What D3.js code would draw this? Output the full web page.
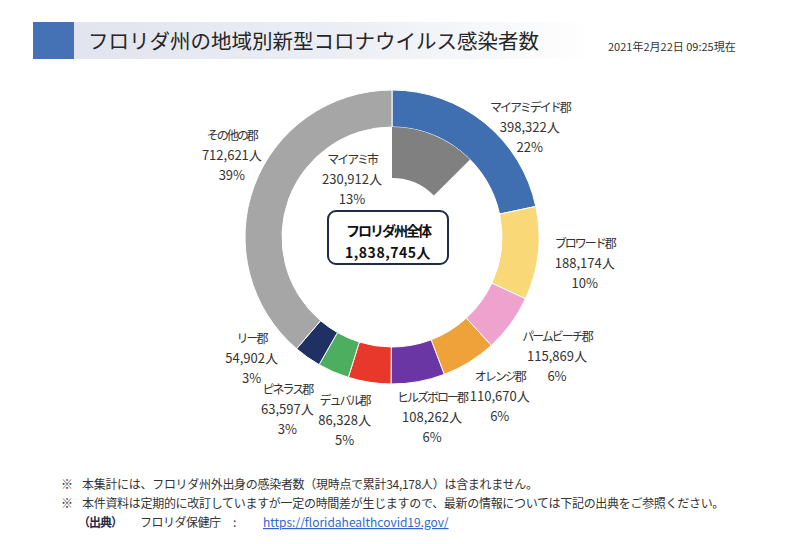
<!DOCTYPE html>
<html><head><meta charset="utf-8">
<script src="https://cdn.jsdelivr.net/npm/d3@7"></script>
<style>
html,body{margin:0;padding:0;background:#fff;}
svg{display:block;font-family:"Noto Sans CJK JP","Noto Sans",sans-serif;}
</style></head>
<body><svg id="chart" width="800" height="544"></svg>
<script>
// ---- data ----
const titleText = "フロリダ州の地域別新型コロナウイルス感染者数";
const dateText = "2021年2月22日 09:25現在";
const categories = ["マイアミデイド郡","ブロワード郡","パームビーチ郡","オレンジ郡","ヒルズボロー郡","デュバル郡","ピネラス郡","リー郡","その他の郡"];
const values = [398322,188174,115869,110670,108262,86328,63597,54902,712621];
const percents = ["22%","10%","6%","6%","6%","5%","3%","3%","39%"];
const subCategory = ["マイアミ市"];
const subValues = [230912];
const subPercents = ["13%"];
const totalLabel = "フロリダ州全体";
const totalValue = 1838745;
const notes = [
  "本集計には、フロリダ州外出身の感染者数（現時点で累計34,178人）は含まれません。",
  "本件資料は定期的に改訂していますが一定の時間差が生じますので、最新の情報については下記の出典をご参照ください。"
];
const sourceLabel = "（出典）";
const sourceName = "フロリダ保健庁";
const sourceUrl = "https://floridahealthcovid19.gov/";

// ---- style / layout ----
const colors = ["#3F6EB1","#F8D877","#EEA2CD","#F0A23A","#6936A3","#E8382C","#4CAE5E","#1F3163","#A6A6A6"];
const subColor = "#808080";
const labelNudge = [[17,39],[2,4],[10,5],[7,-5],[6,-9],[-18,-7],[-28,-5],[-30,-37],[20,-16]];

const svg = d3.select("#chart");
const fmt = d3.format(",");

// title banner
const defs = svg.append("defs");
const grad = defs.append("linearGradient").attr("id","band").attr("x1","0").attr("x2","1").attr("y1","0").attr("y2","0");
grad.append("stop").attr("offset","0%").attr("stop-color","#E1E4EE");
grad.append("stop").attr("offset","55%").attr("stop-color","#EDEFF5");
grad.append("stop").attr("offset","100%").attr("stop-color","#ffffff");
svg.append("rect").attr("x",73).attr("y",22).attr("width",520).attr("height",37).attr("fill","url(#band)");
svg.append("rect").attr("x",33).attr("y",22).attr("width",41).attr("height",37).attr("fill","#4472B4");
svg.append("text").attr("x",88).attr("y",49).attr("font-size",20.5).attr("fill","#262626").text(titleText);
svg.append("text").attr("x",608).attr("y",51).attr("font-size",11).attr("fill","#333").text(dateText);

// donut
const cx = 392, cy = 237, R = 147, r = 110, rSub = 59;
const g = svg.append("g").attr("transform",`translate(${cx},${cy})`);
const data = categories.map((c,i)=>({name:c,value:values[i],pct:percents[i],color:colors[i],nudge:labelNudge[i]}));
const pie = d3.pie().value(d=>d.value).sort(null);
const arcs = pie(data);
const arc = d3.arc().innerRadius(r).outerRadius(R);
g.selectAll("path.seg").data(arcs).join("path").attr("class","seg")
  .attr("d",arc).attr("fill",d=>d.data.color).attr("stroke","#fff").attr("stroke-width",1);

// sub wedge (Miami city) as share of total
const total = d3.sum(values);
const subAngle = d3.scaleLinear().domain([0,total]).range([0,2*Math.PI]);
const subArc = d3.arc().innerRadius(rSub).outerRadius(r);
g.append("path").attr("d",subArc({startAngle:0,endAngle:subAngle(subValues[0])})).attr("fill",subColor);

// labels
const labelArc = d3.arc().innerRadius(192).outerRadius(192);
function drawLabel(x,y,lines){
  const t = g.append("text").attr("text-anchor","middle").attr("fill","#333");
  lines.forEach((s,k)=>{
    t.append("tspan").attr("x",x).attr("y",y+(k-1)*20).attr("dominant-baseline","central")
      .attr("font-size",k===0?12:13).attr("letter-spacing",k===0?-2:0).text(s);
  });
}
arcs.forEach(a=>{
  const [x,y] = labelArc.centroid(a);
  drawLabel(x+a.data.nudge[0], y+a.data.nudge[1], [a.data.name, fmt(a.data.value)+"人", a.data.pct]);
});
drawLabel(-40,-59,[subCategory[0], fmt(subValues[0])+"人", subPercents[0]]);

// center box
g.append("rect").attr("x",-64).attr("y",-26).attr("width",120).attr("height",53).attr("rx",8)
  .attr("fill","#fff").attr("stroke","#1F2A4F").attr("stroke-width",2);
g.append("text").attr("x",-4).attr("y",-7).attr("text-anchor","middle").attr("dominant-baseline","central")
  .attr("font-size",14).attr("font-weight","bold").attr("letter-spacing",-2).attr("fill","#111").text(totalLabel);
g.append("text").attr("x",-4).attr("y",15).attr("text-anchor","middle").attr("dominant-baseline","central")
  .attr("font-size",14).attr("font-weight","bold").attr("letter-spacing",0.5).attr("fill","#111").text(fmt(totalValue)+"人");

// footnotes
notes.forEach((n,i)=>{
  const y = 489 + i*19;
  svg.append("text").attr("x",61).attr("y",y).attr("font-size",12).attr("fill","#333").text("※");
  svg.append("text").attr("x",82).attr("y",y).attr("font-size",12).attr("letter-spacing",-0.3).attr("fill","#333").text(n);
});
svg.append("text").attr("x",78).attr("y",527).attr("font-size",12).attr("font-weight","bold").attr("fill","#1F2A4F").attr("letter-spacing",-1).text(sourceLabel);
svg.append("text").attr("x",140).attr("y",527).attr("font-size",12).attr("fill","#333").attr("letter-spacing",-0.5).text(sourceName);
svg.append("text").attr("x",233).attr("y",527).attr("font-size",12).attr("fill","#333").text(":");
svg.append("text").attr("x",263).attr("y",527).attr("font-size",12).attr("fill","#3366CC").attr("text-decoration","underline").text(sourceUrl);
</script></body></html>
